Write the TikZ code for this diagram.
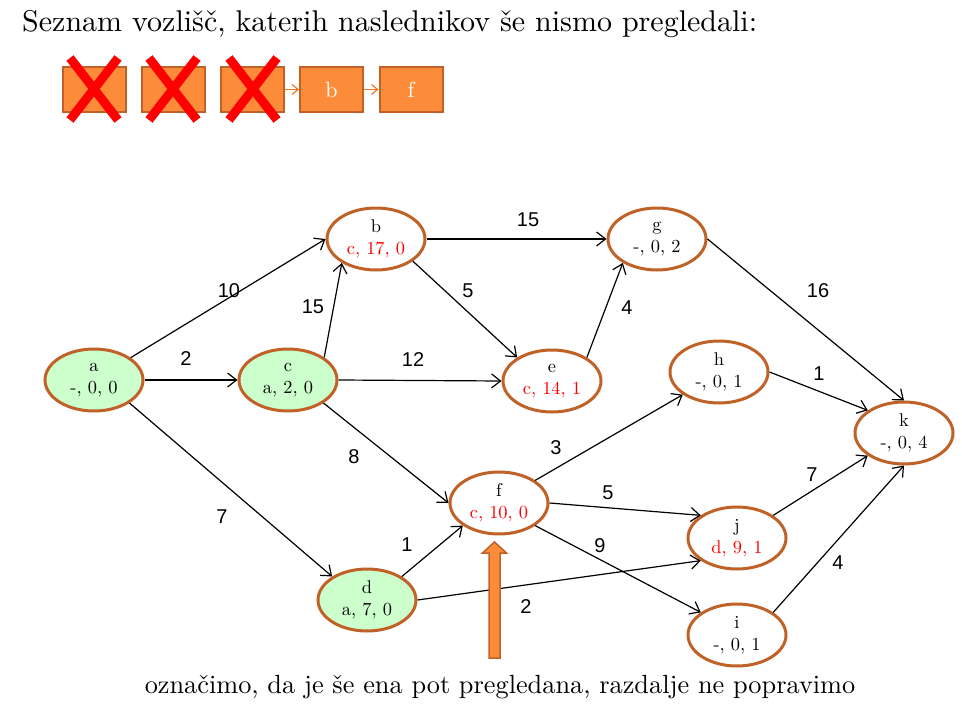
\documentclass[tikz,border=0pt]{standalone}
\usepackage{fontspec}
\setmainfont{lmroman10-regular}[Extension=.otf]
\newfontfamily\labelfont{Liberation Sans}
\usetikzlibrary{arrows.meta,shapes.geometric}
\definecolor{nodebrown}{RGB}{192,98,40}
\definecolor{boxorange}{RGB}{252,140,58}
\definecolor{visited}{RGB}{204,255,204}
\definecolor{arrorange}{RGB}{240,120,40}
\begin{document}
\begin{tikzpicture}[x=1pt,y=-1pt,
  vertex/.style={ellipse, draw=nodebrown, line width=3pt, fill=white,
    minimum width=98pt, minimum height=62pt, inner sep=0pt, align=center,
    font=\fontsize{18.4}{22}\selectfont},
  done/.style={vertex, fill=visited},
  edge/.style={line width=1.2pt, -{Straight Barb[length=9pt,width=14pt]}},
  weight/.style={font=\labelfont\fontsize{20}{24}\selectfont, inner sep=0pt},
  qbox/.style={rectangle, draw=nodebrown, line width=2pt, fill=boxorange,
    minimum width=63pt, minimum height=45pt, inner sep=0pt, text=white,
    font=\fontsize{22}{26}\selectfont},
  cross/.style={draw=red, line width=9pt},
  qarrow/.style={draw=arrorange, line width=1.2pt, -{Straight Barb[length=6pt,width=10pt]}}
]
\useasboundingbox (0,0) rectangle (962,717);

% title
\node[anchor=base west, inner sep=0pt, font=\fontsize{30}{36}\selectfont] (title) at (22,32)
  {Seznam vozlišč, katerih naslednikov še nismo pregledali:};

% queue
\node[qbox] (q1) at (94.5,89.5) {a};
\node[qbox] (q2) at (173.5,89.5) {c};
\node[qbox] (q3) at (252.5,89.5) {d};
\node[qbox] (q4) at (331.5,89.5) {b};
\node[qbox] (q5) at (411,89.5) {f};
\draw[qarrow] (q3) -- (q4);
\draw[qarrow] (q4) -- (q5);
\foreach \cx in {94,173,253}{
  \draw[cross] (\cx-24,58) -- (\cx+24,120);
  \draw[cross] (\cx+24,58) -- (\cx-24,120);
}

% graph nodes
\node[done]   (a) at (94,380)  {a\\-, 0, 0};
\node[done]   (c) at (288,380) {c\\a, 2, 0};
\node[vertex] (b) at (376,239) {b\\\textcolor{red}{c, 17, 0}};
\node[vertex] (g) at (657,239) {g\\-, 0, 2};
\node[vertex] (e) at (552,381) {e\\\textcolor{red}{c, 14, 1}};
\node[vertex] (h) at (719,372) {h\\-, 0, 1};
\node[vertex] (k) at (904,433) {k\\-, 0, 4};
\node[vertex] (f) at (499,503) {f\\\textcolor{red}{c, 10, 0}};
\node[vertex] (j) at (737,538) {j\\\textcolor{red}{d, 9, 1}};
\node[vertex] (i) at (737,635) {i\\-, 0, 1};
\node[done]   (d) at (367,600) {d\\a, 7, 0};

% edges
\draw[edge] (a) -- (b.west);
\draw[edge] (a.east) -- (c.west);
\draw[edge] (a.-33) -- (d.146);
\draw[edge] (c.32) -- (b.215);
\draw[edge] (c.east) -- (e.west);
\draw[edge] (c.-33) -- (f.west);
\draw[edge] (b.east) -- (g.west);
\draw[edge] (b.-31) -- (e.146);
\draw[edge] (e.34) -- (g.215);
\draw[edge] (g.east) -- (k.north);
\draw[edge] (h.east) -- (k.148);
\draw[edge] (f.32) -- (h.212);
\draw[edge] (f.east) -- (j.148);
\draw[edge] (f.-32) -- (i.148);
\draw[edge] (d.34) -- (f.212);
\draw[edge] (d.east) -- (j.212);
\draw[edge] (j.32) -- (k.212);
\draw[edge] (i.32) -- (k.south);

% weights
\node[weight] (wab) at (229,291) {10};
\node[weight] (wac) at (186,359) {2};
\node[weight] (wad) at (222,517) {7};
\node[weight] (wcb) at (313,307) {15};
\node[weight] (wce) at (413,360) {12};
\node[weight] (wcf) at (354,457) {8};
\node[weight] (wbg) at (528,220) {15};
\node[weight] (wbe) at (468,291) {5};
\node[weight] (weg) at (627,308) {4};
\node[weight] (wgk) at (818,291) {16};
\node[weight] (whk) at (819,374) {1};
\node[weight] (wfh) at (556,448) {3};
\node[weight] (wfj) at (608,493) {5};
\node[weight] (wdf) at (407,545) {1};
\node[weight] (wfi) at (600,546) {9};
\node[weight] (wdj) at (526,607) {2};
\node[weight] (wjk) at (812,475) {7};
\node[weight] (wik) at (838,563) {4};

% pointer arrow
\draw[fill=boxorange, draw=nodebrown, line width=1.5pt]
  (489,658) -- (489,553) -- (482.5,553) -- (494.5,542) -- (506.5,553) -- (500,553) -- (500,658) -- cycle;

% note
\node[anchor=base, inner sep=0pt, font=\fontsize{26.3}{30}\selectfont] (note) at (500,693)
  {označimo, da je še ena pot pregledana, razdalje ne popravimo};
\end{tikzpicture}
\end{document}
